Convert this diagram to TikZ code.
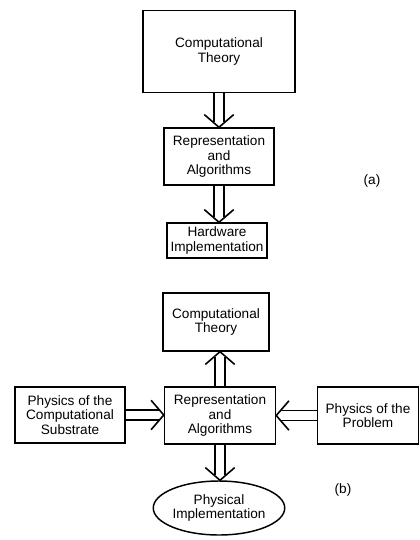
\documentclass[tikz,border=0pt]{standalone}
\usepackage{fontspec}
\setmainfont{Liberation Sans}
\usetikzlibrary{positioning}
\usetikzlibrary{calc}
\usetikzlibrary{shapes}
\usetikzlibrary{decorations.markings}

\begin{document}
\begin{tikzpicture}[x=0.75pt, y=-0.75pt]
	\tikzstyle{box}=[rectangle, draw=black, line width=1.1pt, align=center, inner sep=2pt, font=\fontsize{10.2}{10.6}\selectfont]
	\tikzstyle{oval}=[ellipse, draw=black, line width=1.1pt, align=center, inner sep=0pt, font=\fontsize{10.2}{10.6}\selectfont]
	\tikzstyle{shaft}=[double, double distance=6.4pt, line width=1.1pt, shorten >=3.6pt]
	\tikzstyle{head}=[decorate, decoration={markings, mark=at position 1 with {\draw[line width=1.2pt] (-9.5pt,11pt) -- (0pt,0pt) -- (-9.5pt,-11pt);}}]
	\tikzstyle{tag}=[font=\fontsize{10.2}{10.6}\selectfont]
	
	\useasboundingbox (0,0) rectangle (420,540);
	
	% (a)
	\node at (219, 51.5) [box, minimum width=114pt, minimum height=61.5pt] (theory) {Computational\\Theory};
	\node at (219, 156.5) [box, minimum width=82.5pt, minimum height=42.75pt] (repr) {Representation\\and\\Algorithms};
	\node at (217, 240.5) [box, minimum width=75pt, minimum height=26.25pt] (hw) {Hardware\\Implementation};
	\node at (372, 181) [tag] (taga) {(a)};
	
	\draw [shaft] (theory) to (repr);
	\path [head] (theory) to (repr);
	\draw [shaft] (repr.south) to (repr.south |- hw.north);
	\path [head] (repr.south) to (repr.south |- hw.north);
	
	% (b)
	\node at (216, 322) [box, minimum width=79.5pt, minimum height=43.5pt] (theory1) {Computational\\Theory};
	\node at (220, 415.5) [box, minimum width=83.25pt, minimum height=42.75pt] (repr1) {Representation\\and\\Algorithms};
	\node at (70, 415) [box, minimum width=82.5pt, minimum height=42pt] (sub) {Physics of the\\Computational\\Substrate};
	\node at (368, 415.5) [box, minimum width=75.75pt, minimum height=42.75pt] (prob) {Physics of the\\Problem};
	\node at (219, 508) [oval, minimum width=90.75pt, minimum height=40.5pt] (impl) {Physical\\Implementation};
	\node at (343, 490) [tag] (tagb) {(b)};
	
	\draw [shaft] (repr1.north) to (repr1.north |- theory1.south);
	\path [head] (repr1.north) to (repr1.north |- theory1.south);
	\draw [shaft] (sub.east) to (sub.east -| repr1.west);
	\path [head] (sub.east) to (sub.east -| repr1.west);
	\draw [shaft] (prob.west) to (prob.west -| repr1.east);
	\path [head] (prob.west) to (prob.west -| repr1.east);
	\draw [shaft] (repr1.south) to (repr1.south |- impl.north);
	\path [head] (repr1.south) to (repr1.south |- impl.north);
\end{tikzpicture}
\end{document}
